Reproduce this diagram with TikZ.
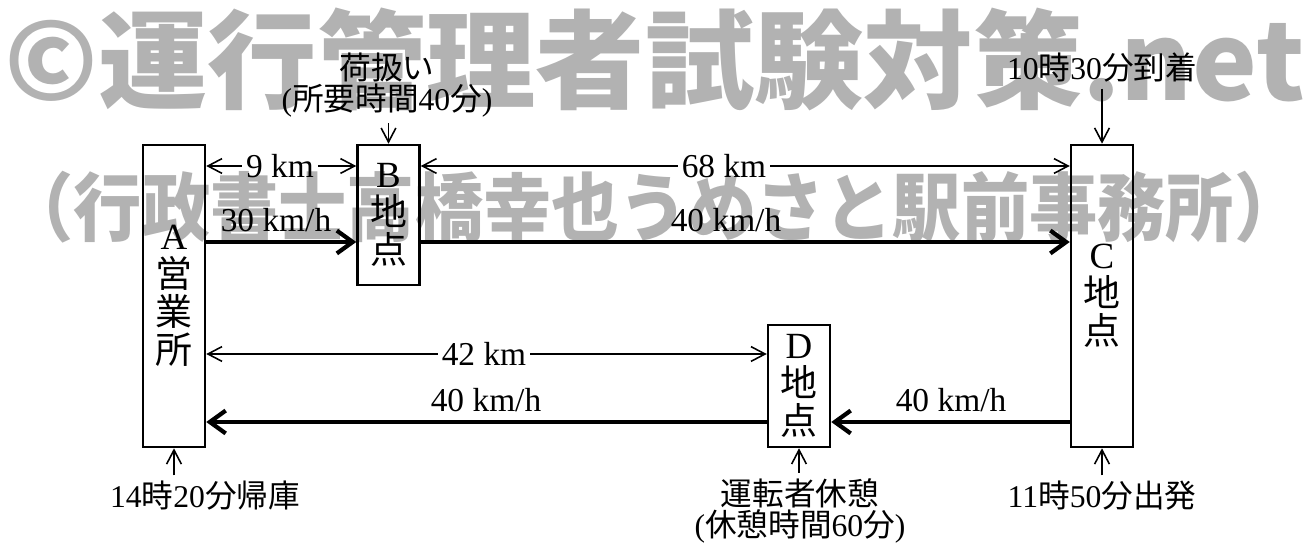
\documentclass[tikz,border=0pt]{standalone}
\usepackage{fontspec}
\setmainfont{Liberation Serif}
\newfontfamily\jp{Noto Sans CJK JP}
\newcommand{\J}[1]{{\jp #1}}
\usepackage{tikz}
\usetikzlibrary{arrows.meta,positioning,calc}

\begin{document}
\begin{tikzpicture}[x=0.01cm, y=-0.01cm,
          place/.style = {draw, line width=0.7pt, minimum width=0.62cm, inner sep=0pt, align=center, font=\fontsize{10.5}{10.8}\selectfont},
          dist/.style = {line width=0.45pt, -{Straight Barb[length=4pt,width=4.2pt]}},
          run/.style = {line width=1.2pt, -{Straight Barb[length=4.5pt,width=6.5pt]}},
          note/.style = {line width=0.45pt, -{Straight Barb[length=4pt,width=4.2pt]}},
          lbl/.style = {inner sep=1pt, font=\fontsize{9.5}{10}\selectfont},
          txt/.style = {inner sep=1.5pt, align=center, font=\fontsize{9}{8.8}\selectfont},
          wmark/.style = {inner sep=0pt, text=black!30}]
          \useasboundingbox (0,0) rectangle (1312,543);

          \node[wmark] (wm1) at (655,59) {\resizebox*{13cm}{1.03cm}{\jp\bfseries ©運行管理者試験対策.net}};
          \node[wmark] (wm2) at (654,207) {\resizebox*{12.96cm}{0.72cm}{\jp\bfseries （行政書士高橋幸也うめさと駅前事務所）}};

          \node[place, minimum height=3.02cm] (A) at (174,296) {A\\\J{営}\\\J{業}\\\J{所}};
          \node[place, minimum height=1.40cm] (B) at (388.5,215) {B\\\J{地}\\\J{点}};
          \node[place, minimum height=3.02cm] (C) at (1102,296) {C\\\J{地}\\\J{点}};
          \node[place, minimum height=1.22cm] (D) at (799,386) {D\\\J{地}\\\J{点}};

          \node[lbl] (dAB) at (280,166) {9 km};
          \draw[dist] (dAB.west) -- (A.east |- dAB);
          \draw[dist] (dAB.east) -- (B.west |- dAB);
          \node[lbl] (dBC) at (724,166) {68 km};
          \draw[dist] (dBC.west) -- (B.east |- dBC);
          \draw[dist] (dBC.east) -- (C.west |- dBC);
          \node[lbl] (dAD) at (484,354) {42 km};
          \draw[dist] (dAD.west) -- (A.east |- dAD);
          \draw[dist] (dAD.east) -- (D.west |- dAD);

          \coordinate (rAB) at (0,242);
          \coordinate (rCA) at (0,422);
          \draw[run] (A.east |- rAB) -- (B.west |- rAB);
          \draw[run] (B.east |- rAB) -- (C.west |- rAB);
          \draw[run] (C.west |- rCA) -- (D.east |- rCA);
          \draw[run] (D.west |- rCA) -- (A.east |- rCA);
          \node[lbl] (vAB) at (276,220) {30 km/h};
          \node[lbl] (vBC) at (726,220) {40 km/h};
          \node[lbl] (vCD) at (951,400) {40 km/h};
          \node[lbl] (vDA) at (486,400) {40 km/h};

          \node[txt] (tB) at (387,85) {\J{荷扱い}\\(\J{所要時間}40\J{分})};
          \draw[note] (B.north |- tB.south) -- (B.north);
          \node[txt] (tC) at (1102,68) {10\J{時}30\J{分到着}};
          \draw[note] (tC.south) -- (C.north);
          \node[txt] (tA) at (205,496) {14\J{時}20\J{分帰庫}};
          \draw[note] (A.south |- tA.north) -- (A.south);
          \node[txt] (tD) at (800,511) {\J{運転者休憩}\\(\J{休憩時間}60\J{分})};
          \draw[note] (D.south |- tD.north) -- (D.south);
          \node[txt] (tE) at (1102,496) {11\J{時}50\J{分出発}};
          \draw[note] (tE.north) -- (C.south);
\end{tikzpicture}
\end{document}
